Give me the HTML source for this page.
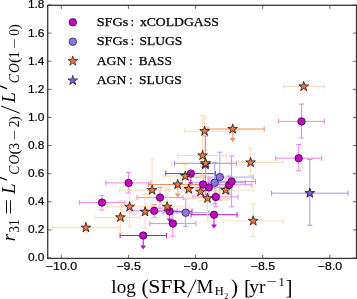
<!DOCTYPE html>
<html><head><meta charset="utf-8"><style>
html,body{margin:0;padding:0;background:#fff;}
svg{display:block;will-change:transform;}
</style></head><body>
<svg width="357" height="299" viewBox="0 0 357 299">
<rect width="357" height="299" fill="#fff"/>
<g><line x1="79.3" y1="202.6" x2="124.8" y2="202.6" stroke="#ee82ee" stroke-width="1.0"/><line x1="79.3" y1="200.0" x2="79.3" y2="205.2" stroke="#ee82ee" stroke-width="1.0"/><line x1="124.8" y1="200.0" x2="124.8" y2="205.2" stroke="#ee82ee" stroke-width="1.0"/><line x1="102.0" y1="195.4" x2="102.0" y2="210.1" stroke="#ee82ee" stroke-width="1.0"/><line x1="99.4" y1="195.4" x2="104.6" y2="195.4" stroke="#ee82ee" stroke-width="1.0"/><line x1="99.4" y1="210.1" x2="104.6" y2="210.1" stroke="#ee82ee" stroke-width="1.0"/><line x1="105.8" y1="182.9" x2="151.0" y2="182.9" stroke="#ee82ee" stroke-width="1.0"/><line x1="105.8" y1="180.3" x2="105.8" y2="185.5" stroke="#ee82ee" stroke-width="1.0"/><line x1="151.0" y1="180.3" x2="151.0" y2="185.5" stroke="#ee82ee" stroke-width="1.0"/><line x1="128.6" y1="172.4" x2="128.6" y2="193.1" stroke="#ee82ee" stroke-width="1.0"/><line x1="126.0" y1="172.4" x2="131.2" y2="172.4" stroke="#ee82ee" stroke-width="1.0"/><line x1="126.0" y1="193.1" x2="131.2" y2="193.1" stroke="#ee82ee" stroke-width="1.0"/><line x1="120.1" y1="235.5" x2="166.6" y2="235.5" stroke="#c010c0" stroke-width="1.0"/><line x1="120.1" y1="232.9" x2="120.1" y2="238.1" stroke="#c010c0" stroke-width="1.0"/><line x1="166.6" y1="232.9" x2="166.6" y2="238.1" stroke="#c010c0" stroke-width="1.0"/><line x1="143.2" y1="235.5" x2="143.2" y2="246.5" stroke="#c010c0" stroke-width="1.0"/><path d="M140.2,245.5 L146.2,245.5 L143.2,249.5 Z" fill="#c010c0"/><line x1="131.0" y1="210.8" x2="177.0" y2="210.8" stroke="#ee82ee" stroke-width="1.0"/><line x1="131.0" y1="208.20000000000002" x2="131.0" y2="213.4" stroke="#ee82ee" stroke-width="1.0"/><line x1="177.0" y1="208.20000000000002" x2="177.0" y2="213.4" stroke="#ee82ee" stroke-width="1.0"/><line x1="154.2" y1="204.4" x2="154.2" y2="217.5" stroke="#ee82ee" stroke-width="1.0"/><line x1="151.6" y1="204.4" x2="156.79999999999998" y2="204.4" stroke="#ee82ee" stroke-width="1.0"/><line x1="151.6" y1="217.5" x2="156.79999999999998" y2="217.5" stroke="#ee82ee" stroke-width="1.0"/><line x1="137.0" y1="197.6" x2="183.0" y2="197.6" stroke="#ee82ee" stroke-width="1.0"/><line x1="137.0" y1="195.0" x2="137.0" y2="200.2" stroke="#ee82ee" stroke-width="1.0"/><line x1="183.0" y1="195.0" x2="183.0" y2="200.2" stroke="#ee82ee" stroke-width="1.0"/><line x1="160.0" y1="187.6" x2="160.0" y2="208.2" stroke="#ee82ee" stroke-width="1.0"/><line x1="157.4" y1="187.6" x2="162.6" y2="187.6" stroke="#ee82ee" stroke-width="1.0"/><line x1="157.4" y1="208.2" x2="162.6" y2="208.2" stroke="#ee82ee" stroke-width="1.0"/><line x1="147.0" y1="211.3" x2="192.0" y2="211.3" stroke="#c010c0" stroke-width="1.0"/><line x1="147.0" y1="208.70000000000002" x2="147.0" y2="213.9" stroke="#c010c0" stroke-width="1.0"/><line x1="192.0" y1="208.70000000000002" x2="192.0" y2="213.9" stroke="#c010c0" stroke-width="1.0"/><line x1="169.6" y1="211.3" x2="169.6" y2="219.5" stroke="#c010c0" stroke-width="1.0"/><path d="M166.6,218.5 L172.6,218.5 L169.6,222.5 Z" fill="#c010c0"/><line x1="149.7" y1="223.6" x2="196.0" y2="223.6" stroke="#ee82ee" stroke-width="1.0"/><line x1="149.7" y1="221.0" x2="149.7" y2="226.2" stroke="#ee82ee" stroke-width="1.0"/><line x1="196.0" y1="221.0" x2="196.0" y2="226.2" stroke="#ee82ee" stroke-width="1.0"/><line x1="172.9" y1="211.0" x2="172.9" y2="236.3" stroke="#ee82ee" stroke-width="1.0"/><line x1="170.3" y1="211.0" x2="175.5" y2="211.0" stroke="#ee82ee" stroke-width="1.0"/><line x1="170.3" y1="236.3" x2="175.5" y2="236.3" stroke="#ee82ee" stroke-width="1.0"/><line x1="165.7" y1="173.6" x2="215.5" y2="173.6" stroke="#c010c0" stroke-width="1.0"/><line x1="165.7" y1="171.0" x2="165.7" y2="176.2" stroke="#c010c0" stroke-width="1.0"/><line x1="215.5" y1="171.0" x2="215.5" y2="176.2" stroke="#c010c0" stroke-width="1.0"/><line x1="190.8" y1="173.6" x2="190.8" y2="183.0" stroke="#c010c0" stroke-width="1.0"/><path d="M187.8,182.0 L193.8,182.0 L190.8,186.0 Z" fill="#c010c0"/><line x1="180.0" y1="184.5" x2="226.0" y2="184.5" stroke="#ee82ee" stroke-width="1.0"/><line x1="180.0" y1="181.9" x2="180.0" y2="187.1" stroke="#ee82ee" stroke-width="1.0"/><line x1="226.0" y1="181.9" x2="226.0" y2="187.1" stroke="#ee82ee" stroke-width="1.0"/><line x1="203.1" y1="176.0" x2="203.1" y2="193.0" stroke="#ee82ee" stroke-width="1.0"/><line x1="200.5" y1="176.0" x2="205.7" y2="176.0" stroke="#ee82ee" stroke-width="1.0"/><line x1="200.5" y1="193.0" x2="205.7" y2="193.0" stroke="#ee82ee" stroke-width="1.0"/><line x1="186.0" y1="187.4" x2="231.8" y2="187.4" stroke="#ee82ee" stroke-width="1.0"/><line x1="186.0" y1="184.8" x2="186.0" y2="190.0" stroke="#ee82ee" stroke-width="1.0"/><line x1="231.8" y1="184.8" x2="231.8" y2="190.0" stroke="#ee82ee" stroke-width="1.0"/><line x1="208.9" y1="178.0" x2="208.9" y2="197.0" stroke="#ee82ee" stroke-width="1.0"/><line x1="206.3" y1="178.0" x2="211.5" y2="178.0" stroke="#ee82ee" stroke-width="1.0"/><line x1="206.3" y1="197.0" x2="211.5" y2="197.0" stroke="#ee82ee" stroke-width="1.0"/><line x1="191.0" y1="214.7" x2="237.1" y2="214.7" stroke="#c010c0" stroke-width="1.0"/><line x1="191.0" y1="212.1" x2="191.0" y2="217.29999999999998" stroke="#c010c0" stroke-width="1.0"/><line x1="237.1" y1="212.1" x2="237.1" y2="217.29999999999998" stroke="#c010c0" stroke-width="1.0"/><line x1="214.0" y1="214.7" x2="214.0" y2="225.5" stroke="#c010c0" stroke-width="1.0"/><path d="M211.0,224.5 L217.0,224.5 L214.0,228.5 Z" fill="#c010c0"/><line x1="193.0" y1="196.9" x2="238.0" y2="196.9" stroke="#ee82ee" stroke-width="1.0"/><line x1="193.0" y1="194.3" x2="193.0" y2="199.5" stroke="#ee82ee" stroke-width="1.0"/><line x1="238.0" y1="194.3" x2="238.0" y2="199.5" stroke="#ee82ee" stroke-width="1.0"/><line x1="215.8" y1="187.0" x2="215.8" y2="206.7" stroke="#ee82ee" stroke-width="1.0"/><line x1="213.20000000000002" y1="187.0" x2="218.4" y2="187.0" stroke="#ee82ee" stroke-width="1.0"/><line x1="213.20000000000002" y1="206.7" x2="218.4" y2="206.7" stroke="#ee82ee" stroke-width="1.0"/><line x1="206.0" y1="184.8" x2="251.8" y2="184.8" stroke="#ee82ee" stroke-width="1.0"/><line x1="206.0" y1="182.20000000000002" x2="206.0" y2="187.4" stroke="#ee82ee" stroke-width="1.0"/><line x1="251.8" y1="182.20000000000002" x2="251.8" y2="187.4" stroke="#ee82ee" stroke-width="1.0"/><line x1="229.2" y1="176.0" x2="229.2" y2="194.0" stroke="#ee82ee" stroke-width="1.0"/><line x1="226.6" y1="176.0" x2="231.79999999999998" y2="176.0" stroke="#ee82ee" stroke-width="1.0"/><line x1="226.6" y1="194.0" x2="231.79999999999998" y2="194.0" stroke="#ee82ee" stroke-width="1.0"/><line x1="208.0" y1="181.5" x2="255.5" y2="181.5" stroke="#ee82ee" stroke-width="1.0"/><line x1="208.0" y1="178.9" x2="208.0" y2="184.1" stroke="#ee82ee" stroke-width="1.0"/><line x1="255.5" y1="178.9" x2="255.5" y2="184.1" stroke="#ee82ee" stroke-width="1.0"/><line x1="231.6" y1="156.0" x2="231.6" y2="206.8" stroke="#ee82ee" stroke-width="1.0"/><line x1="229.0" y1="156.0" x2="234.2" y2="156.0" stroke="#ee82ee" stroke-width="1.0"/><line x1="229.0" y1="206.8" x2="234.2" y2="206.8" stroke="#ee82ee" stroke-width="1.0"/><line x1="275.6" y1="158.2" x2="321.6" y2="158.2" stroke="#ee82ee" stroke-width="1.0"/><line x1="275.6" y1="155.6" x2="275.6" y2="160.79999999999998" stroke="#ee82ee" stroke-width="1.0"/><line x1="321.6" y1="155.6" x2="321.6" y2="160.79999999999998" stroke="#ee82ee" stroke-width="1.0"/><line x1="298.7" y1="144.5" x2="298.7" y2="170.7" stroke="#ee82ee" stroke-width="1.0"/><line x1="296.09999999999997" y1="144.5" x2="301.3" y2="144.5" stroke="#ee82ee" stroke-width="1.0"/><line x1="296.09999999999997" y1="170.7" x2="301.3" y2="170.7" stroke="#ee82ee" stroke-width="1.0"/><line x1="278.4" y1="121.4" x2="324.4" y2="121.4" stroke="#ee82ee" stroke-width="1.0"/><line x1="278.4" y1="118.80000000000001" x2="278.4" y2="124.0" stroke="#ee82ee" stroke-width="1.0"/><line x1="324.4" y1="118.80000000000001" x2="324.4" y2="124.0" stroke="#ee82ee" stroke-width="1.0"/><line x1="301.5" y1="104.1" x2="301.5" y2="138.1" stroke="#ee82ee" stroke-width="1.0"/><line x1="298.9" y1="104.1" x2="304.1" y2="104.1" stroke="#ee82ee" stroke-width="1.0"/><line x1="298.9" y1="138.1" x2="304.1" y2="138.1" stroke="#ee82ee" stroke-width="1.0"/><line x1="163.0" y1="212.7" x2="209.0" y2="212.7" stroke="#b29cf0" stroke-width="1.0"/><line x1="163.0" y1="210.1" x2="163.0" y2="215.29999999999998" stroke="#b29cf0" stroke-width="1.0"/><line x1="209.0" y1="210.1" x2="209.0" y2="215.29999999999998" stroke="#b29cf0" stroke-width="1.0"/><line x1="185.7" y1="199.0" x2="185.7" y2="226.4" stroke="#b29cf0" stroke-width="1.0"/><line x1="183.1" y1="199.0" x2="188.29999999999998" y2="199.0" stroke="#b29cf0" stroke-width="1.0"/><line x1="183.1" y1="226.4" x2="188.29999999999998" y2="226.4" stroke="#b29cf0" stroke-width="1.0"/><line x1="192.0" y1="182.7" x2="245.4" y2="182.7" stroke="#b29cf0" stroke-width="1.0"/><line x1="192.0" y1="180.1" x2="192.0" y2="185.29999999999998" stroke="#b29cf0" stroke-width="1.0"/><line x1="245.4" y1="180.1" x2="245.4" y2="185.29999999999998" stroke="#b29cf0" stroke-width="1.0"/><line x1="214.7" y1="162.5" x2="214.7" y2="204.0" stroke="#b29cf0" stroke-width="1.0"/><line x1="212.1" y1="162.5" x2="217.29999999999998" y2="162.5" stroke="#b29cf0" stroke-width="1.0"/><line x1="212.1" y1="204.0" x2="217.29999999999998" y2="204.0" stroke="#b29cf0" stroke-width="1.0"/><line x1="187.0" y1="177.1" x2="253.2" y2="177.1" stroke="#b29cf0" stroke-width="1.0"/><line x1="187.0" y1="174.5" x2="187.0" y2="179.7" stroke="#b29cf0" stroke-width="1.0"/><line x1="253.2" y1="174.5" x2="253.2" y2="179.7" stroke="#b29cf0" stroke-width="1.0"/><line x1="219.8" y1="152.2" x2="219.8" y2="200.0" stroke="#b29cf0" stroke-width="1.0"/><line x1="217.20000000000002" y1="152.2" x2="222.4" y2="152.2" stroke="#b29cf0" stroke-width="1.0"/><line x1="217.20000000000002" y1="200.0" x2="222.4" y2="200.0" stroke="#b29cf0" stroke-width="1.0"/><line x1="52.4" y1="227.70000000000002" x2="118.9" y2="227.70000000000002" stroke="#ffdab9" stroke-width="1.0"/><line x1="52.4" y1="225.10000000000002" x2="52.4" y2="230.3" stroke="#ffdab9" stroke-width="1.0"/><line x1="118.9" y1="225.10000000000002" x2="118.9" y2="230.3" stroke="#ffdab9" stroke-width="1.0"/><line x1="85.9" y1="222.2" x2="85.9" y2="233.1" stroke="#ffdab9" stroke-width="1.0"/><line x1="83.30000000000001" y1="222.2" x2="88.5" y2="222.2" stroke="#ffdab9" stroke-width="1.0"/><line x1="83.30000000000001" y1="233.1" x2="88.5" y2="233.1" stroke="#ffdab9" stroke-width="1.0"/><line x1="94.7" y1="217.4" x2="140.6" y2="217.4" stroke="#ffdab9" stroke-width="1.0"/><line x1="94.7" y1="214.8" x2="94.7" y2="220.0" stroke="#ffdab9" stroke-width="1.0"/><line x1="140.6" y1="214.8" x2="140.6" y2="220.0" stroke="#ffdab9" stroke-width="1.0"/><line x1="120.4" y1="200.9" x2="120.4" y2="233.0" stroke="#ffdab9" stroke-width="1.0"/><line x1="117.80000000000001" y1="200.9" x2="123.0" y2="200.9" stroke="#ffdab9" stroke-width="1.0"/><line x1="117.80000000000001" y1="233.0" x2="123.0" y2="233.0" stroke="#ffdab9" stroke-width="1.0"/><line x1="107.7" y1="206.8" x2="151.0" y2="206.8" stroke="#ffdab9" stroke-width="1.0"/><line x1="107.7" y1="204.20000000000002" x2="107.7" y2="209.4" stroke="#ffdab9" stroke-width="1.0"/><line x1="151.0" y1="204.20000000000002" x2="151.0" y2="209.4" stroke="#ffdab9" stroke-width="1.0"/><line x1="129.6" y1="190.0" x2="129.6" y2="226.9" stroke="#ffdab9" stroke-width="1.0"/><line x1="127.0" y1="190.0" x2="132.2" y2="190.0" stroke="#ffdab9" stroke-width="1.0"/><line x1="127.0" y1="226.9" x2="132.2" y2="226.9" stroke="#ffdab9" stroke-width="1.0"/><line x1="122.4" y1="211.8" x2="167.0" y2="211.8" stroke="#ffdab9" stroke-width="1.0"/><line x1="122.4" y1="209.20000000000002" x2="122.4" y2="214.4" stroke="#ffdab9" stroke-width="1.0"/><line x1="167.0" y1="209.20000000000002" x2="167.0" y2="214.4" stroke="#ffdab9" stroke-width="1.0"/><line x1="145.1" y1="194.6" x2="145.1" y2="228.6" stroke="#ffdab9" stroke-width="1.0"/><line x1="142.5" y1="194.6" x2="147.7" y2="194.6" stroke="#ffdab9" stroke-width="1.0"/><line x1="142.5" y1="228.6" x2="147.7" y2="228.6" stroke="#ffdab9" stroke-width="1.0"/><line x1="119.4" y1="190.20000000000002" x2="169.2" y2="190.20000000000002" stroke="#ffdab9" stroke-width="1.0"/><line x1="119.4" y1="187.60000000000002" x2="119.4" y2="192.8" stroke="#ffdab9" stroke-width="1.0"/><line x1="169.2" y1="187.60000000000002" x2="169.2" y2="192.8" stroke="#ffdab9" stroke-width="1.0"/><line x1="152.1" y1="159.0" x2="152.1" y2="218.0" stroke="#ffdab9" stroke-width="1.0"/><line x1="149.5" y1="159.0" x2="154.7" y2="159.0" stroke="#ffdab9" stroke-width="1.0"/><line x1="149.5" y1="218.0" x2="154.7" y2="218.0" stroke="#ffdab9" stroke-width="1.0"/><line x1="145.0" y1="206.8" x2="189.0" y2="206.8" stroke="#ffdab9" stroke-width="1.0"/><line x1="145.0" y1="204.20000000000002" x2="145.0" y2="209.4" stroke="#ffdab9" stroke-width="1.0"/><line x1="189.0" y1="204.20000000000002" x2="189.0" y2="209.4" stroke="#ffdab9" stroke-width="1.0"/><line x1="167.2" y1="195.0" x2="167.2" y2="217.0" stroke="#ffdab9" stroke-width="1.0"/><line x1="164.6" y1="195.0" x2="169.79999999999998" y2="195.0" stroke="#ffdab9" stroke-width="1.0"/><line x1="164.6" y1="217.0" x2="169.79999999999998" y2="217.0" stroke="#ffdab9" stroke-width="1.0"/><line x1="148.6" y1="184.5" x2="200.0" y2="184.5" stroke="#f98b5f" stroke-width="1.0"/><line x1="148.6" y1="181.9" x2="148.6" y2="187.1" stroke="#f98b5f" stroke-width="1.0"/><line x1="200.0" y1="181.9" x2="200.0" y2="187.1" stroke="#f98b5f" stroke-width="1.0"/><line x1="177.7" y1="184.5" x2="177.7" y2="194.5" stroke="#f98b5f" stroke-width="1.0"/><path d="M174.7,193.5 L180.7,193.5 L177.7,197.5 Z" fill="#f98b5f"/><line x1="163.8" y1="176.10000000000002" x2="207.0" y2="176.10000000000002" stroke="#ffdab9" stroke-width="1.0"/><line x1="163.8" y1="173.50000000000003" x2="163.8" y2="178.70000000000002" stroke="#ffdab9" stroke-width="1.0"/><line x1="207.0" y1="173.50000000000003" x2="207.0" y2="178.70000000000002" stroke="#ffdab9" stroke-width="1.0"/><line x1="185.3" y1="164.4" x2="185.3" y2="186.0" stroke="#ffdab9" stroke-width="1.0"/><line x1="182.70000000000002" y1="164.4" x2="187.9" y2="164.4" stroke="#ffdab9" stroke-width="1.0"/><line x1="182.70000000000002" y1="186.0" x2="187.9" y2="186.0" stroke="#ffdab9" stroke-width="1.0"/><line x1="166.0" y1="189.10000000000002" x2="211.0" y2="189.10000000000002" stroke="#ffdab9" stroke-width="1.0"/><line x1="166.0" y1="186.50000000000003" x2="166.0" y2="191.70000000000002" stroke="#ffdab9" stroke-width="1.0"/><line x1="211.0" y1="186.50000000000003" x2="211.0" y2="191.70000000000002" stroke="#ffdab9" stroke-width="1.0"/><line x1="188.7" y1="178.0" x2="188.7" y2="199.0" stroke="#ffdab9" stroke-width="1.0"/><line x1="186.1" y1="178.0" x2="191.29999999999998" y2="178.0" stroke="#ffdab9" stroke-width="1.0"/><line x1="186.1" y1="199.0" x2="191.29999999999998" y2="199.0" stroke="#ffdab9" stroke-width="1.0"/><line x1="178.0" y1="191.8" x2="223.0" y2="191.8" stroke="#ffdab9" stroke-width="1.0"/><line x1="178.0" y1="189.20000000000002" x2="178.0" y2="194.4" stroke="#ffdab9" stroke-width="1.0"/><line x1="223.0" y1="189.20000000000002" x2="223.0" y2="194.4" stroke="#ffdab9" stroke-width="1.0"/><line x1="200.5" y1="181.0" x2="200.5" y2="201.0" stroke="#ffdab9" stroke-width="1.0"/><line x1="197.9" y1="181.0" x2="203.1" y2="181.0" stroke="#ffdab9" stroke-width="1.0"/><line x1="197.9" y1="201.0" x2="203.1" y2="201.0" stroke="#ffdab9" stroke-width="1.0"/><line x1="177.8" y1="155.5" x2="226.7" y2="155.5" stroke="#ffdab9" stroke-width="1.0"/><line x1="177.8" y1="152.9" x2="177.8" y2="158.1" stroke="#ffdab9" stroke-width="1.0"/><line x1="226.7" y1="152.9" x2="226.7" y2="158.1" stroke="#ffdab9" stroke-width="1.0"/><line x1="202.6" y1="115.4" x2="202.6" y2="192.0" stroke="#ffdab9" stroke-width="1.0"/><line x1="200.0" y1="115.4" x2="205.2" y2="115.4" stroke="#ffdab9" stroke-width="1.0"/><line x1="200.0" y1="192.0" x2="205.2" y2="192.0" stroke="#ffdab9" stroke-width="1.0"/><line x1="184.7" y1="131.20000000000002" x2="226.0" y2="131.20000000000002" stroke="#ffdab9" stroke-width="1.0"/><line x1="184.7" y1="128.60000000000002" x2="184.7" y2="133.8" stroke="#ffdab9" stroke-width="1.0"/><line x1="226.0" y1="128.60000000000002" x2="226.0" y2="133.8" stroke="#ffdab9" stroke-width="1.0"/><line x1="204.6" y1="117.0" x2="204.6" y2="150.0" stroke="#ffdab9" stroke-width="1.0"/><line x1="202.0" y1="117.0" x2="207.2" y2="117.0" stroke="#ffdab9" stroke-width="1.0"/><line x1="202.0" y1="150.0" x2="207.2" y2="150.0" stroke="#ffdab9" stroke-width="1.0"/><line x1="171.4" y1="163.3" x2="230.0" y2="163.3" stroke="#ffdab9" stroke-width="1.0"/><line x1="171.4" y1="160.70000000000002" x2="171.4" y2="165.9" stroke="#ffdab9" stroke-width="1.0"/><line x1="230.0" y1="160.70000000000002" x2="230.0" y2="165.9" stroke="#ffdab9" stroke-width="1.0"/><line x1="205.6" y1="150.0" x2="205.6" y2="177.0" stroke="#ffdab9" stroke-width="1.0"/><line x1="203.0" y1="150.0" x2="208.2" y2="150.0" stroke="#ffdab9" stroke-width="1.0"/><line x1="203.0" y1="177.0" x2="208.2" y2="177.0" stroke="#ffdab9" stroke-width="1.0"/><line x1="174.5" y1="163.3" x2="236.4" y2="163.3" stroke="#ab92f0" stroke-width="1.0"/><line x1="174.5" y1="160.70000000000002" x2="174.5" y2="165.9" stroke="#ab92f0" stroke-width="1.0"/><line x1="236.4" y1="160.70000000000002" x2="236.4" y2="165.9" stroke="#ab92f0" stroke-width="1.0"/><line x1="205.6" y1="136.0" x2="205.6" y2="195.0" stroke="#ab92f0" stroke-width="1.0"/><line x1="203.0" y1="136.0" x2="208.2" y2="136.0" stroke="#ab92f0" stroke-width="1.0"/><line x1="203.0" y1="195.0" x2="208.2" y2="195.0" stroke="#ab92f0" stroke-width="1.0"/><line x1="186.0" y1="198.3" x2="229.0" y2="198.3" stroke="#ffdab9" stroke-width="1.0"/><line x1="186.0" y1="195.70000000000002" x2="186.0" y2="200.9" stroke="#ffdab9" stroke-width="1.0"/><line x1="229.0" y1="195.70000000000002" x2="229.0" y2="200.9" stroke="#ffdab9" stroke-width="1.0"/><line x1="207.5" y1="185.0" x2="207.5" y2="221.0" stroke="#ffdab9" stroke-width="1.0"/><line x1="204.9" y1="185.0" x2="210.1" y2="185.0" stroke="#ffdab9" stroke-width="1.0"/><line x1="204.9" y1="221.0" x2="210.1" y2="221.0" stroke="#ffdab9" stroke-width="1.0"/><line x1="203.0" y1="190.10000000000002" x2="253.2" y2="190.10000000000002" stroke="#ffdab9" stroke-width="1.0"/><line x1="203.0" y1="187.50000000000003" x2="203.0" y2="192.70000000000002" stroke="#ffdab9" stroke-width="1.0"/><line x1="253.2" y1="187.50000000000003" x2="253.2" y2="192.70000000000002" stroke="#ffdab9" stroke-width="1.0"/><line x1="225.6" y1="178.0" x2="225.6" y2="200.0" stroke="#ffdab9" stroke-width="1.0"/><line x1="223.0" y1="178.0" x2="228.2" y2="178.0" stroke="#ffdab9" stroke-width="1.0"/><line x1="223.0" y1="200.0" x2="228.2" y2="200.0" stroke="#ffdab9" stroke-width="1.0"/><line x1="208.0" y1="129.0" x2="264.2" y2="129.0" stroke="#f98b5f" stroke-width="1.0"/><line x1="208.0" y1="126.4" x2="208.0" y2="131.6" stroke="#f98b5f" stroke-width="1.0"/><line x1="264.2" y1="126.4" x2="264.2" y2="131.6" stroke="#f98b5f" stroke-width="1.0"/><line x1="232.7" y1="129.0" x2="232.7" y2="139.1" stroke="#f98b5f" stroke-width="1.0"/><path d="M229.7,138.1 L235.7,138.1 L232.7,142.1 Z" fill="#f98b5f"/><line x1="238.4" y1="162.5" x2="283.0" y2="162.5" stroke="#ffdab9" stroke-width="1.0"/><line x1="238.4" y1="159.9" x2="238.4" y2="165.1" stroke="#ffdab9" stroke-width="1.0"/><line x1="283.0" y1="159.9" x2="283.0" y2="165.1" stroke="#ffdab9" stroke-width="1.0"/><line x1="250.6" y1="148.2" x2="250.6" y2="175.4" stroke="#ffdab9" stroke-width="1.0"/><line x1="248.0" y1="148.2" x2="253.2" y2="148.2" stroke="#ffdab9" stroke-width="1.0"/><line x1="248.0" y1="175.4" x2="253.2" y2="175.4" stroke="#ffdab9" stroke-width="1.0"/><line x1="223.4" y1="220.9" x2="283.1" y2="220.9" stroke="#ffdab9" stroke-width="1.0"/><line x1="223.4" y1="218.3" x2="223.4" y2="223.5" stroke="#ffdab9" stroke-width="1.0"/><line x1="283.1" y1="218.3" x2="283.1" y2="223.5" stroke="#ffdab9" stroke-width="1.0"/><line x1="253.2" y1="204.1" x2="253.2" y2="236.7" stroke="#ffdab9" stroke-width="1.0"/><line x1="250.6" y1="204.1" x2="255.79999999999998" y2="204.1" stroke="#ffdab9" stroke-width="1.0"/><line x1="250.6" y1="236.7" x2="255.79999999999998" y2="236.7" stroke="#ffdab9" stroke-width="1.0"/><line x1="283.4" y1="86.5" x2="324.6" y2="86.5" stroke="#ffdab9" stroke-width="1.0"/><line x1="283.4" y1="83.9" x2="283.4" y2="89.1" stroke="#ffdab9" stroke-width="1.0"/><line x1="324.6" y1="83.9" x2="324.6" y2="89.1" stroke="#ffdab9" stroke-width="1.0"/><line x1="271.6" y1="193.20000000000002" x2="348.1" y2="193.20000000000002" stroke="#ab92f0" stroke-width="1.0"/><line x1="271.6" y1="190.60000000000002" x2="271.6" y2="195.8" stroke="#ab92f0" stroke-width="1.0"/><line x1="348.1" y1="190.60000000000002" x2="348.1" y2="195.8" stroke="#ab92f0" stroke-width="1.0"/><line x1="309.8" y1="159.4" x2="309.8" y2="225.2" stroke="#ab92f0" stroke-width="1.0"/><line x1="307.2" y1="159.4" x2="312.40000000000003" y2="159.4" stroke="#ab92f0" stroke-width="1.0"/><line x1="307.2" y1="225.2" x2="312.40000000000003" y2="225.2" stroke="#ab92f0" stroke-width="1.0"/></g><g><path d="M205.40,159.45 L206.56,163.01 L210.30,163.01 L207.27,165.21 L208.43,168.77 L205.40,166.57 L202.37,168.77 L203.53,165.21 L200.50,163.01 L204.24,163.01 Z" fill="#8658e8" stroke="#000" stroke-width="0.7" stroke-linejoin="miter"/><circle cx="102.0" cy="202.6" r="3.75" fill="#c600c6" stroke="#000" stroke-width="0.6"/><circle cx="128.6" cy="182.9" r="3.75" fill="#c600c6" stroke="#000" stroke-width="0.6"/><circle cx="143.2" cy="235.5" r="3.75" fill="#c600c6" stroke="#000" stroke-width="0.6"/><circle cx="154.2" cy="210.8" r="3.75" fill="#c600c6" stroke="#000" stroke-width="0.6"/><circle cx="160.0" cy="197.6" r="3.75" fill="#c600c6" stroke="#000" stroke-width="0.6"/><circle cx="169.6" cy="211.3" r="3.75" fill="#c600c6" stroke="#000" stroke-width="0.6"/><circle cx="172.9" cy="223.6" r="3.75" fill="#c600c6" stroke="#000" stroke-width="0.6"/><circle cx="190.8" cy="173.6" r="3.75" fill="#c600c6" stroke="#000" stroke-width="0.6"/><circle cx="203.1" cy="184.5" r="3.75" fill="#c600c6" stroke="#000" stroke-width="0.6"/><circle cx="208.9" cy="187.4" r="3.75" fill="#c600c6" stroke="#000" stroke-width="0.6"/><circle cx="214.0" cy="214.7" r="3.75" fill="#c600c6" stroke="#000" stroke-width="0.6"/><circle cx="215.8" cy="196.9" r="3.75" fill="#c600c6" stroke="#000" stroke-width="0.6"/><circle cx="229.2" cy="184.8" r="3.75" fill="#c600c6" stroke="#000" stroke-width="0.6"/><circle cx="231.6" cy="181.5" r="3.75" fill="#c600c6" stroke="#000" stroke-width="0.6"/><circle cx="298.7" cy="158.2" r="3.75" fill="#c600c6" stroke="#000" stroke-width="0.6"/><circle cx="301.5" cy="121.4" r="3.75" fill="#c600c6" stroke="#000" stroke-width="0.6"/><circle cx="185.7" cy="212.7" r="3.75" fill="#8f72ec" stroke="#000" stroke-width="0.6"/><circle cx="214.7" cy="182.7" r="3.75" fill="#8f72ec" stroke="#000" stroke-width="0.6"/><circle cx="219.8" cy="177.1" r="3.75" fill="#8f72ec" stroke="#000" stroke-width="0.6"/><path d="M85.90,222.55 L87.06,226.11 L90.80,226.11 L87.77,228.31 L88.93,231.87 L85.90,229.67 L82.87,231.87 L84.03,228.31 L81.00,226.11 L84.74,226.11 Z" fill="#f47643" stroke="#000" stroke-width="0.7" stroke-linejoin="miter"/><path d="M120.40,212.25 L121.56,215.81 L125.30,215.81 L122.27,218.01 L123.43,221.57 L120.40,219.37 L117.37,221.57 L118.53,218.01 L115.50,215.81 L119.24,215.81 Z" fill="#f47643" stroke="#000" stroke-width="0.7" stroke-linejoin="miter"/><path d="M129.60,201.65 L130.76,205.21 L134.50,205.21 L131.47,207.41 L132.63,210.97 L129.60,208.77 L126.57,210.97 L127.73,207.41 L124.70,205.21 L128.44,205.21 Z" fill="#f47643" stroke="#000" stroke-width="0.7" stroke-linejoin="miter"/><path d="M145.10,206.65 L146.26,210.21 L150.00,210.21 L146.97,212.41 L148.13,215.97 L145.10,213.77 L142.07,215.97 L143.23,212.41 L140.20,210.21 L143.94,210.21 Z" fill="#f47643" stroke="#000" stroke-width="0.7" stroke-linejoin="miter"/><path d="M152.10,185.05 L153.26,188.61 L157.00,188.61 L153.97,190.81 L155.13,194.37 L152.10,192.17 L149.07,194.37 L150.23,190.81 L147.20,188.61 L150.94,188.61 Z" fill="#f47643" stroke="#000" stroke-width="0.7" stroke-linejoin="miter"/><path d="M167.20,201.65 L168.36,205.21 L172.10,205.21 L169.07,207.41 L170.23,210.97 L167.20,208.77 L164.17,210.97 L165.33,207.41 L162.30,205.21 L166.04,205.21 Z" fill="#f47643" stroke="#000" stroke-width="0.7" stroke-linejoin="miter"/><path d="M177.70,179.35 L178.86,182.91 L182.60,182.91 L179.57,185.11 L180.73,188.67 L177.70,186.47 L174.67,188.67 L175.83,185.11 L172.80,182.91 L176.54,182.91 Z" fill="#f47643" stroke="#000" stroke-width="0.7" stroke-linejoin="miter"/><path d="M185.30,170.95 L186.46,174.51 L190.20,174.51 L187.17,176.71 L188.33,180.27 L185.30,178.07 L182.27,180.27 L183.43,176.71 L180.40,174.51 L184.14,174.51 Z" fill="#f47643" stroke="#000" stroke-width="0.7" stroke-linejoin="miter"/><path d="M188.70,183.95 L189.86,187.51 L193.60,187.51 L190.57,189.71 L191.73,193.27 L188.70,191.07 L185.67,193.27 L186.83,189.71 L183.80,187.51 L187.54,187.51 Z" fill="#f47643" stroke="#000" stroke-width="0.7" stroke-linejoin="miter"/><path d="M200.50,186.65 L201.66,190.21 L205.40,190.21 L202.37,192.41 L203.53,195.97 L200.50,193.77 L197.47,195.97 L198.63,192.41 L195.60,190.21 L199.34,190.21 Z" fill="#f47643" stroke="#000" stroke-width="0.7" stroke-linejoin="miter"/><path d="M202.60,150.35 L203.76,153.91 L207.50,153.91 L204.47,156.11 L205.63,159.67 L202.60,157.47 L199.57,159.67 L200.73,156.11 L197.70,153.91 L201.44,153.91 Z" fill="#f47643" stroke="#000" stroke-width="0.7" stroke-linejoin="miter"/><path d="M204.60,126.05 L205.76,129.61 L209.50,129.61 L206.47,131.81 L207.63,135.37 L204.60,133.17 L201.57,135.37 L202.73,131.81 L199.70,129.61 L203.44,129.61 Z" fill="#f47643" stroke="#000" stroke-width="0.7" stroke-linejoin="miter"/><path d="M205.60,158.15 L206.76,161.71 L210.50,161.71 L207.47,163.91 L208.63,167.47 L205.60,165.27 L202.57,167.47 L203.73,163.91 L200.70,161.71 L204.44,161.71 Z" fill="#f47643" stroke="#000" stroke-width="0.7" stroke-linejoin="miter"/><path d="M207.50,193.15 L208.66,196.71 L212.40,196.71 L209.37,198.91 L210.53,202.47 L207.50,200.27 L204.47,202.47 L205.63,198.91 L202.60,196.71 L206.34,196.71 Z" fill="#f47643" stroke="#000" stroke-width="0.7" stroke-linejoin="miter"/><path d="M225.60,184.95 L226.76,188.51 L230.50,188.51 L227.47,190.71 L228.63,194.27 L225.60,192.07 L222.57,194.27 L223.73,190.71 L220.70,188.51 L224.44,188.51 Z" fill="#f47643" stroke="#000" stroke-width="0.7" stroke-linejoin="miter"/><path d="M232.70,123.85 L233.86,127.41 L237.60,127.41 L234.57,129.61 L235.73,133.17 L232.70,130.97 L229.67,133.17 L230.83,129.61 L227.80,127.41 L231.54,127.41 Z" fill="#f47643" stroke="#000" stroke-width="0.7" stroke-linejoin="miter"/><path d="M250.60,157.35 L251.76,160.91 L255.50,160.91 L252.47,163.11 L253.63,166.67 L250.60,164.47 L247.57,166.67 L248.73,163.11 L245.70,160.91 L249.44,160.91 Z" fill="#f47643" stroke="#000" stroke-width="0.7" stroke-linejoin="miter"/><path d="M253.20,215.75 L254.36,219.31 L258.10,219.31 L255.07,221.51 L256.23,225.07 L253.20,222.87 L250.17,225.07 L251.33,221.51 L248.30,219.31 L252.04,219.31 Z" fill="#f47643" stroke="#000" stroke-width="0.7" stroke-linejoin="miter"/><path d="M303.70,81.35 L304.86,84.91 L308.60,84.91 L305.57,87.11 L306.73,90.67 L303.70,88.47 L300.67,90.67 L301.83,87.11 L298.80,84.91 L302.54,84.91 Z" fill="#f47643" stroke="#000" stroke-width="0.7" stroke-linejoin="miter"/><path d="M309.80,188.05 L310.96,191.61 L314.70,191.61 L311.67,193.81 L312.83,197.37 L309.80,195.17 L306.77,197.37 L307.93,193.81 L304.90,191.61 L308.64,191.61 Z" fill="#8658e8" stroke="#000" stroke-width="0.7" stroke-linejoin="miter"/></g><g stroke="#555" stroke-width="0.9"><line x1="61.30" y1="258.4" x2="61.30" y2="254.79999999999998"/><line x1="61.30" y1="5.3" x2="61.30" y2="8.9"/><line x1="128.43" y1="258.4" x2="128.43" y2="254.79999999999998"/><line x1="128.43" y1="5.3" x2="128.43" y2="8.9"/><line x1="195.55" y1="258.4" x2="195.55" y2="254.79999999999998"/><line x1="195.55" y1="5.3" x2="195.55" y2="8.9"/><line x1="262.68" y1="258.4" x2="262.68" y2="254.79999999999998"/><line x1="262.68" y1="5.3" x2="262.68" y2="8.9"/><line x1="329.80" y1="258.4" x2="329.80" y2="254.79999999999998"/><line x1="329.80" y1="5.3" x2="329.80" y2="8.9"/><line x1="47.7" y1="258.00" x2="51.300000000000004" y2="258.00"/><line x1="356.5" y1="258.00" x2="352.9" y2="258.00"/><line x1="47.7" y1="229.89" x2="51.300000000000004" y2="229.89"/><line x1="356.5" y1="229.89" x2="352.9" y2="229.89"/><line x1="47.7" y1="201.78" x2="51.300000000000004" y2="201.78"/><line x1="356.5" y1="201.78" x2="352.9" y2="201.78"/><line x1="47.7" y1="173.66" x2="51.300000000000004" y2="173.66"/><line x1="356.5" y1="173.66" x2="352.9" y2="173.66"/><line x1="47.7" y1="145.55" x2="51.300000000000004" y2="145.55"/><line x1="356.5" y1="145.55" x2="352.9" y2="145.55"/><line x1="47.7" y1="117.44" x2="51.300000000000004" y2="117.44"/><line x1="356.5" y1="117.44" x2="352.9" y2="117.44"/><line x1="47.7" y1="89.33" x2="51.300000000000004" y2="89.33"/><line x1="356.5" y1="89.33" x2="352.9" y2="89.33"/><line x1="47.7" y1="61.22" x2="51.300000000000004" y2="61.22"/><line x1="356.5" y1="61.22" x2="352.9" y2="61.22"/><line x1="47.7" y1="33.10" x2="51.300000000000004" y2="33.10"/><line x1="356.5" y1="33.10" x2="352.9" y2="33.10"/><line x1="47.7" y1="4.99" x2="51.300000000000004" y2="4.99"/><line x1="356.5" y1="4.99" x2="352.9" y2="4.99"/></g><rect x="47.7" y="5.3" width="308.80" height="253.10" fill="none" stroke="#383838" stroke-width="1.3"/><g font-family="Liberation Sans, sans-serif" font-size="11.3" fill="#000" stroke="#000" stroke-width="0.2"><text x="44.5" y="261.4" text-anchor="end" textLength="16.6" lengthAdjust="spacingAndGlyphs">0.0</text><text x="44.5" y="233.3" text-anchor="end" textLength="16.6" lengthAdjust="spacingAndGlyphs">0.2</text><text x="44.5" y="205.2" text-anchor="end" textLength="16.6" lengthAdjust="spacingAndGlyphs">0.4</text><text x="44.5" y="177.1" text-anchor="end" textLength="16.6" lengthAdjust="spacingAndGlyphs">0.6</text><text x="44.5" y="149.0" text-anchor="end" textLength="16.6" lengthAdjust="spacingAndGlyphs">0.8</text><text x="44.5" y="120.8" text-anchor="end" textLength="16.6" lengthAdjust="spacingAndGlyphs">1.0</text><text x="44.5" y="92.7" text-anchor="end" textLength="16.6" lengthAdjust="spacingAndGlyphs">1.2</text><text x="44.5" y="64.6" text-anchor="end" textLength="16.6" lengthAdjust="spacingAndGlyphs">1.4</text><text x="44.5" y="36.5" text-anchor="end" textLength="16.6" lengthAdjust="spacingAndGlyphs">1.6</text><text x="44.5" y="8.4" text-anchor="end" textLength="16.6" lengthAdjust="spacingAndGlyphs">1.8</text><text x="61.5" y="270.3" text-anchor="middle" textLength="31.5" lengthAdjust="spacingAndGlyphs">−10.0</text><text x="128.6" y="270.3" text-anchor="middle" textLength="24.4" lengthAdjust="spacingAndGlyphs">−9.5</text><text x="195.8" y="270.3" text-anchor="middle" textLength="24.4" lengthAdjust="spacingAndGlyphs">−9.0</text><text x="262.9" y="270.3" text-anchor="middle" textLength="24.4" lengthAdjust="spacingAndGlyphs">−8.5</text><text x="330.0" y="270.3" text-anchor="middle" textLength="24.4" lengthAdjust="spacingAndGlyphs">−8.0</text></g><circle cx="72.8" cy="22.3" r="3.8" fill="#c600c6" stroke="#000" stroke-width="0.6"/><circle cx="72.8" cy="41.7" r="3.8" fill="#8f72ec" stroke="#000" stroke-width="0.6"/><path d="M72.80,55.95 L73.96,59.51 L77.70,59.51 L74.67,61.71 L75.83,65.27 L72.80,63.07 L69.77,65.27 L70.93,61.71 L67.90,59.51 L71.64,59.51 Z" fill="#f47643" stroke="#000" stroke-width="0.6"/><path d="M72.80,75.35 L73.96,78.91 L77.70,78.91 L74.67,81.11 L75.83,84.67 L72.80,82.47 L69.77,84.67 L70.93,81.11 L67.90,78.91 L71.64,78.91 Z" fill="#8658e8" stroke="#000" stroke-width="0.6"/><g font-family="Liberation Serif, serif" font-size="11.7" fill="#000" stroke="#000" stroke-width="0.25"><text x="96.69999999999999" y="26.0" textLength="31.6" lengthAdjust="spacingAndGlyphs">SFGs</text><text x="130.7" y="26.0">:</text><text x="139.9" y="26.0" textLength="78.99999999999997" lengthAdjust="spacingAndGlyphs">xCOLDGASS</text><text x="96.69999999999999" y="45.4" textLength="31.6" lengthAdjust="spacingAndGlyphs">SFGs</text><text x="130.7" y="45.4">:</text><text x="139.5" y="45.4" textLength="42.899999999999984" lengthAdjust="spacingAndGlyphs">SLUGS</text><text x="96.69999999999999" y="64.8" textLength="29.6" lengthAdjust="spacingAndGlyphs">AGN</text><text x="129.2" y="64.8">:</text><text x="138.7" y="64.8" textLength="33.199999999999996" lengthAdjust="spacingAndGlyphs">BASS</text><text x="96.69999999999999" y="84.2" textLength="29.6" lengthAdjust="spacingAndGlyphs">AGN</text><text x="129.2" y="84.2">:</text><text x="139.0" y="84.2" textLength="42.699999999999996" lengthAdjust="spacingAndGlyphs">SLUGS</text></g><g font-family="Liberation Serif, serif" fill="#000"><text x="111.39" y="293.3" font-size="18.5" textLength="24.47" lengthAdjust="spacingAndGlyphs">log</text><text x="141.60" y="293.7" font-size="21">(</text><text x="148.18" y="293.3" font-size="18.5" textLength="39.04" lengthAdjust="spacingAndGlyphs">SFR</text><text x="196.49" y="293.3" font-size="18.5" textLength="16.88" lengthAdjust="spacingAndGlyphs">M</text><text x="214.65" y="295.3" font-size="12.5">H</text><text x="224.25" y="298.6" font-size="8.0">2</text><text x="230.95" y="293.7" font-size="21">)</text><text x="243.95" y="293.7" font-size="21">[</text><text x="249.39" y="293.3" font-size="18.5" textLength="16.23" lengthAdjust="spacingAndGlyphs">yr</text><text x="266.07" y="286.4" font-size="12.5" textLength="10.94" lengthAdjust="spacingAndGlyphs">−</text><text x="278.40" y="286.4" font-size="12.5">1</text><text x="285.50" y="293.7" font-size="21">]</text></g><line x1="187.6" y1="297.3" x2="196.1" y2="279.6" stroke="#000" stroke-width="1.0"/><g font-family="Liberation Serif, serif" fill="#000" transform="translate(15,250.0) rotate(-90)"><text x="8.80" y="0" font-size="19" font-style="italic">r</text><text x="17.33" y="3.9" font-size="14" textLength="13.44" lengthAdjust="spacingAndGlyphs">31</text><text x="35.13" y="0" font-size="19" textLength="16.25" lengthAdjust="spacingAndGlyphs">=</text><text x="55.90" y="0" font-size="19" font-style="italic">L</text><text x="75.25" y="3.7" font-size="13.6" font-style="italic">C</text><text x="85.55" y="3.7" font-size="13.6" font-style="italic">O</text><text x="95.50" y="3.7" font-size="15.5">(</text><text x="100.30" y="3.7" font-size="13.6">3</text><text x="109.64" y="3.7" font-size="13" textLength="10.46" lengthAdjust="spacingAndGlyphs">−</text><text x="122.65" y="3.7" font-size="13.6">2</text><text x="128.80" y="3.7" font-size="15.5">)</text><text x="147.30" y="0" font-size="19" font-style="italic">L</text><text x="166.65" y="3.7" font-size="13.6" font-style="italic">C</text><text x="176.95" y="3.7" font-size="13.6" font-style="italic">O</text><text x="186.90" y="3.7" font-size="15.5">(</text><text x="191.70" y="3.7" font-size="13.6">1</text><text x="201.04" y="3.7" font-size="13" textLength="10.46" lengthAdjust="spacingAndGlyphs">−</text><text x="214.20" y="3.7" font-size="13.6">0</text><text x="220.65" y="3.7" font-size="15.5">)</text></g><line x1="1.0" y1="106.0" x2="19.6" y2="113.1" stroke="#000" stroke-width="1.0"/><g stroke="#000" stroke-width="1.3" stroke-linecap="round"><line x1="0.5" y1="177.7" x2="6.5" y2="179.9"/><line x1="0.5" y1="86.2" x2="6.6" y2="88.6"/></g>
</svg></body></html>
